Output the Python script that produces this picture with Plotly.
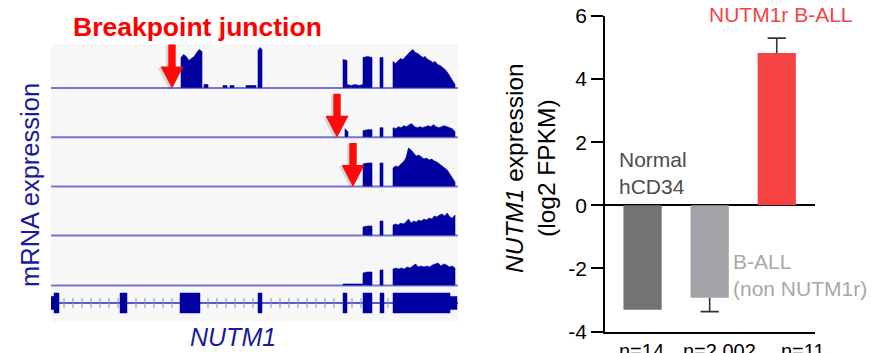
import plotly.graph_objects as go

W, H = 883, 353
FONT = "Liberation Sans, Arial, Helvetica, sans-serif"
NAVY = "#0000a0"
TEXT_NAVY = "#1a1aa0"

# ---------------- Left panel: IGV-style RNA-seq coverage (5 samples) ----------------
# Coverage segments: (start, end, heights sampled evenly along the segment)
track1 = [
    (130, 151, [30, 33, 31, 27, 29, 31, 35, 38, 36]),
    (153, 157, [3, 3]),
    (172, 176, [2, 2]),
    (179, 183, [2, 2]),
    (195, 205, [2, 2, 2]),
    (207, 211, [37, 40, 38]),
    (292, 296, [28, 27]),
    (296, 312, [3, 2, 3, 2, 3]),
    (312, 321, [30, 31, 30]),
    (329, 332, [30, 30]),
    (342, 404, [26, 24, 27, 29, 28, 31, 33, 36, 38, 35, 34, 32, 30, 31, 28,
                27, 25, 26, 23, 22, 20, 18, 15, 11, 7, 3]),
]
track2 = [
    (294, 297, [8, 5]),
    (312, 321, [6, 7, 7]),
    (329, 332, [9, 9]),
    (342, 404, [9, 8, 10, 9, 11, 10, 12, 13, 10, 9, 10, 9, 10, 11, 10, 12,
                10, 9, 10, 11, 10, 9, 8, 5]),
]
track3 = [
    (312, 321, [22, 23, 23]),
    (329, 332, [23, 23]),
    (342, 404, [18, 20, 19, 22, 24, 28, 38, 36, 33, 30, 31, 29, 27, 28, 26,
                27, 25, 24, 22, 20, 18, 16, 12, 8, 4]),
]
track4 = [
    (312, 321, [8, 9, 9]),
    (329, 332, [14, 14]),
    (342, 404, [10, 11, 10, 12, 11, 13, 16, 12, 14, 13, 15, 14, 16, 15, 17,
                16, 19, 18, 20, 21, 19, 22, 18, 17, 20]),
]
track5 = [
    (292, 312, [1, 1, 1]),
    (312, 321, [12, 13, 13]),
    (329, 332, [15, 15]),
    (342, 404, [16, 17, 16, 17, 16, 18, 17, 19, 21, 18, 19, 18, 19, 18, 20,
                21, 22, 19, 21, 20, 18, 19, 17]),
]
tracks = [track1, track2, track3, track4, track5]

# NUTM1 gene model: (start, end, kind) kind = "cds" (thick) or "utr" (thin)
exon_start = [0, 3, 69, 129, 207, 292, 312, 329, 342, 399]
exon_end   = [3, 8, 76, 149, 211, 296, 321, 333, 399, 406]
exon_kind  = ["utr", "cds", "cds", "cds", "cds", "cds", "cds", "cds", "cds", "utr"]

# Breakpoint junction positions (and track index they point to)
breakpoints = [121, 286, 302]
breakpoint_track = [0, 1, 2]

# ---------------- Right panel: NUTM1 expression ----------------
groups = ["Normal hCD34", "B-ALL (non NUTM1r)", "NUTM1r B-ALL"]
means = [-3.31, -2.93, 4.83]
err_up = [0, 0, 0.47]
err_down = [0, 0.44, 0]
n_labels = ["n=14", "n=2,002", "n=11"]
bar_colors = ["#737373", "#a2a2a7", "#f54343"]

# ---------------- Layout constants (pixels) ----------------
TRACK_W = 407
baselines = [87.5, 136.7, 186, 235, 285]
GENE_Y = 303

fig = go.Figure()

# background of IGV panel
fig.add_shape(type="rect", xref="x domain", yref="y domain", x0=0, x1=1, y0=0, y1=1,
              fillcolor="#f7f7f7", line_width=0, layer="below")

def coverage_xy(segs, base):
    xs, ys = [], []
    for s, e, hs in segs:
        n = len(hs)
        pos = [s + (e - s) * i / (n - 1) for i in range(n)]
        xs += [s] + pos + [e, s, None]
        ys += [base] + [base - h for h in hs] + [base, base, None]
    return xs, ys

for segs, base in zip(tracks, baselines):
    fig.add_trace(go.Scatter(x=[0, TRACK_W], y=[base + 0.5, base + 0.5], mode="lines",
                             line=dict(color="#7474d6", width=2),
                             xaxis="x", yaxis="y", hoverinfo="skip", showlegend=False))
    xs, ys = coverage_xy(segs, base)
    fig.add_trace(go.Scatter(x=xs, y=ys, mode="lines", fill="toself", fillcolor=NAVY,
                             line=dict(color=NAVY, width=0.6),
                             xaxis="x", yaxis="y", hoverinfo="skip", showlegend=False))

# gene model
fig.add_trace(go.Scatter(x=[0, TRACK_W], y=[GENE_Y, GENE_Y], mode="lines",
                         line=dict(color="#5a5acc", width=2),
                         xaxis="x", yaxis="y", hoverinfo="skip", showlegend=False))
# strand ticks along the introns
tick_x = []
p = 4.0
while p < TRACK_W:
    inside = any(s - 1 <= p <= e + 1 for s, e in zip(exon_start, exon_end))
    if not inside:
        tick_x.append(p)
    p += 9.0
fig.add_trace(go.Scatter(x=tick_x, y=[GENE_Y] * len(tick_x), mode="markers",
                         marker=dict(symbol="line-ns", size=7,
                                     line=dict(color="#8a8ad8", width=1)),
                         xaxis="x", yaxis="y", hoverinfo="skip", showlegend=False))
gx, gy = [], []
for s, e, k in zip(exon_start, exon_end, exon_kind):
    hh = 10 if k == "cds" else 6.5
    gx += [s, e, e, s, s, None]
    gy += [GENE_Y - hh, GENE_Y - hh, GENE_Y + hh, GENE_Y + hh, GENE_Y - hh, None]
fig.add_trace(go.Scatter(x=gx, y=gy, mode="lines", fill="toself", fillcolor=NAVY,
                         line=dict(color=NAVY, width=0.5),
                         xaxis="x", yaxis="y", hoverinfo="skip", showlegend=False))

# breakpoint arrows
def arrow(tx, ty, dx=0.0, dy=0.0):
    sw, hw, hl, L = 3.7, 11.5, 22, 44
    xs = [tx - sw, tx + sw, tx + sw, tx + hw, tx, tx - hw, tx - sw, tx - sw]
    ys = [ty - L, ty - L, ty - hl, ty - hl, ty, ty - hl, ty - hl, ty - L]
    return [x + dx for x in xs], [y + dy for y in ys]

for bx, ti in zip(breakpoints, breakpoint_track):
    sx, sy = arrow(bx, baselines[ti] + 1, -2.5, 1.5)
    fig.add_trace(go.Scatter(x=sx, y=sy, mode="lines", fill="toself",
                             fillcolor="rgba(0,0,0,0.13)", line=dict(width=0),
                             xaxis="x", yaxis="y", hoverinfo="skip", showlegend=False))
    ax_, ay_ = arrow(bx, baselines[ti] + 1)
    fig.add_trace(go.Scatter(x=ax_, y=ay_, mode="lines", fill="toself",
                             fillcolor="#ff0a0a", line=dict(width=0),
                             xaxis="x", yaxis="y", hoverinfo="skip", showlegend=False))

# ---------------- Bar chart ----------------
fig.add_trace(go.Bar(
    x=groups, y=means, marker=dict(color=bar_colors, line=dict(width=0)),
    error_y=dict(type="data", symmetric=False, array=err_up, arrayminus=err_down,
                 color="#333333", thickness=1.6, width=0),
    xaxis="x2", yaxis="y2", showlegend=False, hoverinfo="skip"))
# error-bar caps at the outer end only
cap_x, cap_y = [], []
for g, m, u, d in zip(groups, means, err_up, err_down):
    if u > 0:
        cap_x.append(g); cap_y.append(m + u)
    if d > 0:
        cap_x.append(g); cap_y.append(m - d)
fig.add_trace(go.Scatter(x=cap_x, y=cap_y, mode="markers",
                         marker=dict(symbol="line-ew", size=13,
                                     line=dict(color="#333333", width=1.6)),
                         xaxis="x2", yaxis="y2", showlegend=False, hoverinfo="skip"))

def ann(text, px, py, size, color, angle=0, xanchor="center", align="center"):
    return dict(text=text, x=px / W, y=1 - py / H, xref="paper", yref="paper",
                xanchor=xanchor, yanchor="middle", align=align, textangle=angle,
                showarrow=False, font=dict(family=FONT, size=size, color=color))

annotations = [
    ann("<b>Breakpoint junction</b>", 197.5, 27, 26.5, "#ff0000"),
    ann("mRNA expression", 30, 185, 25.5, TEXT_NAVY, angle=-90),
    ann("<i>NUTM1</i>", 233, 337, 25, TEXT_NAVY),
    ann("<i>NUTM1</i> expression<br>(log2 FPKM)", 530, 168, 24.5, "#000000", angle=-90),
    ann("NUTM1r B-ALL", 781, 15, 21, "#f54545"),
    ann("Normal<br>hCD34", 617, 173, 21, "#4d4d4d", xanchor="left", align="left"),
    ann("B-ALL<br>(non NUTM1r)", 731, 274.5, 21, "#a8a8a8", xanchor="left", align="left"),
]
for g, lab, sh in zip(groups, n_labels, [-1, 10, 26]):
    annotations.append(dict(text=lab, x=g, xref="x2", y=1 - 350.5 / H, yref="paper",
                            xanchor="center", yanchor="middle",
                            xshift=sh, showarrow=False,
                            font=dict(family=FONT, size=20, color="#000000")))

fig.update_layout(
    width=W, height=H, autosize=False,
    margin=dict(l=0, r=0, t=0, b=0, pad=0, autoexpand=False),
    paper_bgcolor="white", plot_bgcolor="rgba(0,0,0,0)",
    showlegend=False,
    bargap=0.43,
    xaxis=dict(domain=[51 / W, 458 / W], range=[0, TRACK_W], visible=False, fixedrange=True),
    yaxis=dict(domain=[1 - 322 / H, 1 - 44 / H], range=[322, 44], visible=False, fixedrange=True),
    xaxis2=dict(domain=[605 / W, 815 / W], range=[-0.56, 2.57], anchor="y2",
                showline=True, linecolor="#000000", linewidth=1.5, ticks="",
                showticklabels=False, showgrid=False, zeroline=False, automargin=False),
    yaxis2=dict(domain=[1 - 331.5 / H, 1 - 16 / H], range=[-4, 6], anchor="x2",
                showline=True, linecolor="#000000", linewidth=1.5,
                ticks="outside", ticklen=12, tickwidth=1.5, tickcolor="#000000",
                tickvals=[-4, -2, 0, 2, 4, 6], ticktext=["-4", "-2", "0", "2", "4", "6"],
                tickfont=dict(family=FONT, size=21, color="#000000"), automargin=False,
                showgrid=False, zeroline=True, zerolinecolor="#000000", zerolinewidth=1.5),
    annotations=annotations,
)

fig.write_html("out.html")
